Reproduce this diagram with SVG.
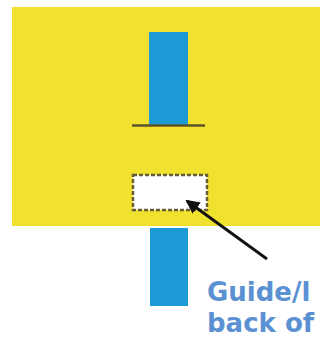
<svg xmlns="http://www.w3.org/2000/svg" width="320" height="344" viewBox="0 0 320 344">
<style>
.bar{fill:#1b9ad6}
.lbl{font-family:"DejaVu Sans","Open Sans",sans-serif;font-weight:bold;font-size:26px;fill:#5b91d3}
</style>
<defs>
<marker id="ah" markerWidth="14" markerHeight="14" refX="12" refY="7" orient="auto" markerUnits="userSpaceOnUse" viewBox="0 0 14 14">
<path d="M0,0 L14,7 L0,14 Z" fill="#111"/>
</marker>
</defs>
<rect width="320" height="344" fill="#ffffff"/>
<g id="panel"><rect x="12" y="7" width="320" height="219" fill="#f0e22e"/></g>
<g id="bar-top"><rect class="bar" x="149" y="32" width="39" height="94"/></g>
<g id="base-line"><line x1="132" y1="125.5" x2="205" y2="125.5" stroke="#5e5228" stroke-width="2.5"/></g>
<g id="bar-bottom"><rect class="bar" x="150" y="228" width="38" height="78"/></g>
<g id="hole"><rect x="133" y="175" width="74" height="35" fill="#ffffff" stroke="#675c3a" stroke-width="2.5" stroke-dasharray="4,2"/></g>
<g id="connectors">
<line x1="267" y1="259" x2="187" y2="201" stroke="#111" stroke-width="2.8" marker-end="url(#ah)"/>
</g>
<g id="label">
<text class="lbl" x="207" y="301">Guide/l</text>
<text class="lbl" x="207" y="332">back of</text>
</g>
</svg>
